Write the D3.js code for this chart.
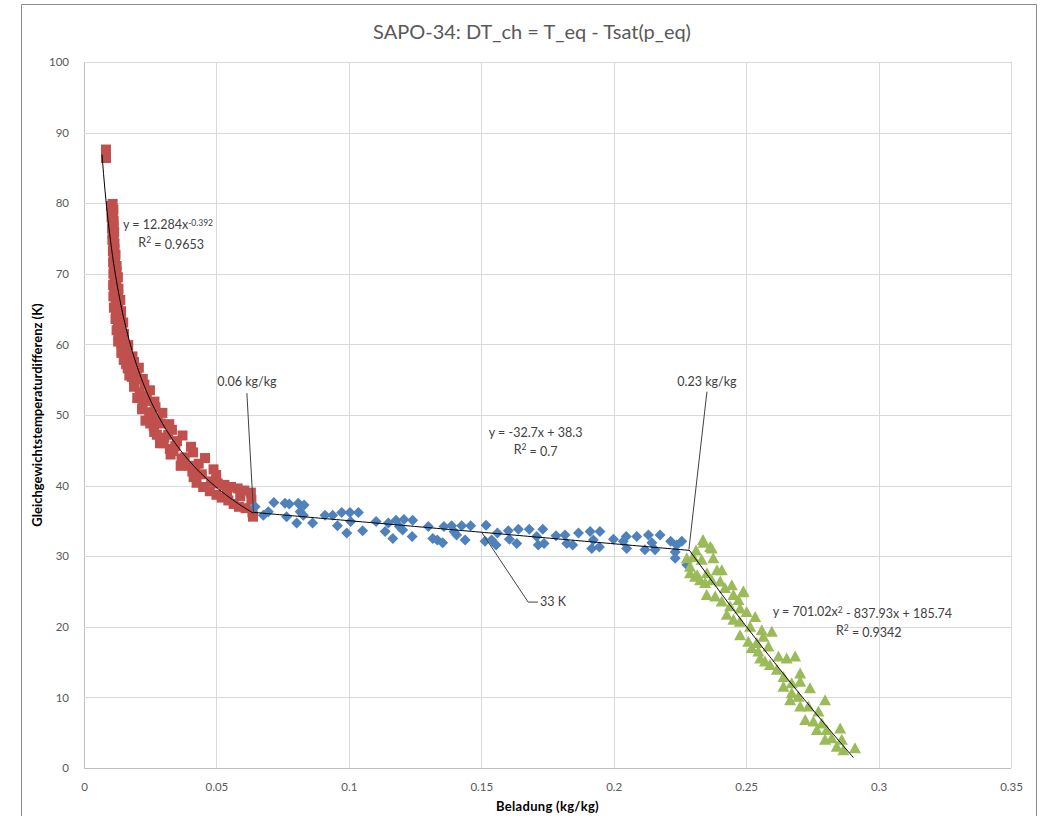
<!DOCTYPE html>
<html>
<head>
<meta charset="utf-8">
<script src="https://cdn.jsdelivr.net/npm/d3@7"></script>
<style>
  html, body { margin:0; padding:0; background:#fff; }
  svg { display:block; font-family: Lato, "Open Sans", sans-serif; }
</style>
</head>
<body>
<div id="chart"></div>
<script>
// red squares: x < 0.064
const squares = [
  [0.0083,87.6],[0.0083,86.4],
  [0.0102,79.6],[0.0108,79.9],[0.0105,78.8],[0.0111,79.1],[0.0104,78.0],[0.0109,78.3],
  [0.0107,77.2],[0.0112,77.5],[0.0106,76.4],[0.0112,76.7],[0.0108,75.6],[0.0114,75.9],
  [0.0107,74.8],[0.0112,75.1],[0.0110,74.0],[0.0115,74.3],[0.0109,73.2],[0.0115,73.5],
  [0.0112,72.4],[0.0119,72.7],[0.0110,71.6],[0.0117,71.9],[0.0113,70.8],[0.0123,71.1],
  [0.0111,70.0],[0.0123,70.3],[0.0115,69.2],[0.0128,69.5],[0.0110,68.4],[0.0122,68.7],
  [0.0114,67.6],[0.0130,67.9],[0.0111,66.8],[0.0129,67.1],[0.0119,66.0],[0.0137,66.3],
  [0.0113,65.2],[0.0129,65.5],[0.0121,64.4],[0.0140,64.7],[0.0119,63.6],[0.0140,63.9],
  [0.0128,62.8],[0.0148,63.1],[0.0123,62.0],[0.0140,62.3],[0.0130,61.2],[0.0151,61.5],
  [0.0129,60.4],[0.0151,60.7],[0.0145,59.6],[0.0167,59.9],[0.0141,58.8],[0.0163,59.1],
  [0.0157,58.0],[0.0183,58.3],[0.0159,57.2],[0.0189,57.5],[0.0176,56.4],[0.0207,56.7],
  [0.0171,55.6],[0.0199,55.9],[0.0189,54.8],[0.0222,55.1],[0.0189,54.0],[0.0228,54.3],
  [0.0210,53.2],[0.0249,53.5],[0.0201,52.4],[0.0237,52.7],[0.0221,51.6],[0.0266,51.9],
  [0.0219,50.8],[0.0270,51.1],[0.0246,50.0],[0.0296,50.3],[0.0232,49.2],[0.0278,49.5],
  [0.0263,48.4],[0.0322,48.7],[0.0265,47.6],[0.0332,47.9],[0.0303,46.8],[0.0372,47.1],
  [0.0287,46.0],[0.0351,46.3],[0.0324,45.2],[0.0404,45.5],[0.0327,44.4],[0.0412,44.7],
  [0.0377,43.6],[0.0457,43.9],[0.0365,42.8],[0.0433,43.1],[0.0409,42.0],[0.0489,42.3],
  [0.0414,41.2],[0.0499,41.5],
  [0.0235,52.0],[0.0255,50.4],[0.0290,48.8],[0.0318,47.2],[0.0345,45.6],[0.0380,44.0],
  [0.0420,42.4],[0.0445,41.6],
  [0.0300,46.0],[0.0338,44.9],[0.0368,43.8],[0.0398,42.8],[0.0275,47.2],[0.0250,48.8],
  [0.0150,57.8],[0.0165,56.6],[0.0180,55.4],[0.0133,62.4],[0.0140,60.2],
  [0.0480,40.6],[0.0505,40.3],[0.0530,40.1],[0.0555,39.8],[0.0580,39.6],[0.0605,39.3],
  [0.0630,39.0],[0.0632,38.0],[0.0450,39.8],[0.0475,39.2],[0.0500,38.7],[0.0520,38.3],
  [0.0545,37.9],[0.0565,37.4],[0.0585,37.0],[0.0610,36.8],[0.0636,36.2],[0.0638,35.6],
  [0.0425,40.4],[0.0590,38.5],[0.0540,39.0]
];

// blue diamonds: 0.064 .. 0.228
const diamonds = [
  [0.0646,37.0],[0.0677,35.8],[0.0696,36.3],[0.0717,37.6],[0.0759,37.5],
  [0.0775,37.4],[0.0809,37.5],[0.0831,37.25],[0.0765,35.6],[0.0803,34.7],
  [0.0816,36.3],[0.0828,35.8],[0.0863,34.7],[0.0910,35.8],[0.0939,35.8],
  [0.0957,34.3],[0.0973,36.2],[0.0992,33.3],[0.1004,36.2],[0.1036,36.2],
  [0.1007,34.9],[0.1052,33.6],[0.1103,34.9],[0.1137,33.5],[0.1149,34.7],
  [0.1166,32.5],[0.1178,35.1],[0.1191,34.2],[0.1208,35.2],[0.1203,33.7],
  [0.1241,35.1],[0.1239,32.8],[0.1300,34.2],[0.1317,32.5],[0.1334,32.3],
  [0.1354,31.9],[0.1359,34.2],[0.1388,34.3],[0.1397,33.5],[0.1407,33.0],
  [0.1426,34.3],[0.1439,32.3],[0.1460,34.3],[0.1518,34.4],[0.1514,32.1],
  [0.1539,32.3],[0.1556,31.6],[0.1561,33.3],[0.1602,33.6],[0.1606,32.4],
  [0.1634,31.8],[0.1640,33.8],[0.1681,33.8],[0.1709,32.8],[0.1715,31.6],
  [0.1732,33.8],[0.1737,31.8],[0.1782,32.9],[0.1816,33.0],[0.1823,31.8],
  [0.1845,31.6],[0.1867,33.3],[0.1911,33.5],[0.1917,31.1],[0.1923,32.3],
  [0.1948,33.5],[0.1946,31.3],[0.1999,32.4],[0.2036,32.1],[0.2047,32.8],
  [0.2049,31.1],[0.2087,32.8],[0.2118,30.9],[0.2131,33.0],[0.2144,31.9],
  [0.2156,30.9],[0.2175,33.0],[0.2215,32.1],[0.2232,30.6],[0.2238,31.6],
  [0.2257,32.1],[0.2232,29.7],[0.2276,28.8]
];

// green triangles: x > 0.228
const triangles = [
  [0.2339,31.9],[0.2370,31.1],[0.2311,30.8],[0.2276,29.7],[0.2376,29.7],
  [0.2332,29.5],[0.2408,28.0],[0.2307,27.1],[0.2288,27.6],[0.2326,26.6],
  [0.2345,26.2],[0.2370,26.6],[0.2402,26.4],[0.2446,25.9],[0.2420,25.5],
  [0.2490,25.0],[0.2351,24.5],[0.2383,24.3],[0.2408,23.6],[0.2452,24.5],
  [0.2471,23.8],[0.2439,22.9],[0.2477,22.6],[0.2502,22.1],[0.2534,21.4],
  [0.2427,21.7],[0.2452,21.0],[0.2476,20.7],[0.2515,20.0],[0.2559,19.5],
  [0.2597,19.3],[0.2565,18.6],[0.2477,18.8],[0.2508,17.9],[0.2540,17.7],
  [0.2584,17.2],[0.2521,17.0],[0.2546,16.5],[0.2622,15.8],[0.2653,15.5],
  [0.2685,15.8],[0.2571,15.1],[0.2590,14.6],[0.2553,15.5],[0.2616,13.9],
  [0.2641,12.9],[0.2704,13.4],[0.2672,12.0],[0.2704,12.2],[0.2641,11.5],
  [0.2672,10.6],[0.2697,10.1],[0.2741,11.3],[0.2798,9.6],[0.2666,9.6],
  [0.2704,8.7],[0.2735,8.7],[0.2773,8.0],[0.2723,6.8],[0.2754,6.6],
  [0.2786,6.3],[0.2767,5.4],[0.2804,5.4],[0.2855,5.6],[0.2823,4.2],
  [0.2861,4.0],[0.2798,4.0],[0.2842,3.0],[0.2867,2.5],[0.2911,2.8],
  [0.2337,32.3],[0.2364,31.3],[0.2300,29.9],[0.2288,28.5],[0.2315,27.3],
  [0.2352,27.6],[0.2390,28.0],[0.2488,24.9]
];

const xTicks = [0, 0.05, 0.1, 0.15, 0.2, 0.25, 0.3, 0.35];
const yTicks = [0, 10, 20, 30, 40, 50, 60, 70, 80, 90, 100];

// trendline coefficients as shown on the chart
const powerFit = { a: 12.284, b: -0.392, from: 0.0068, to: 0.064 };
const linFit   = { m: -32.7, c: 38.3, from: 0.064, to: 0.2284 };
const quadFit  = { a: 701.02, b: -837.93, c: 185.74, from: 0.2284, to: 0.2905 };

(function(){
  const W = 1048, H = 816;
  const left = 84, right = 1011, top = 62, bottom = 768;

  const svg = d3.select('#chart').append('svg')
    .attr('width', W).attr('height', H);

  // chart frame
  svg.append('path')
    .attr('d', `M21.5,${H} V4.5 H1036.5 V${H}`)
    .attr('fill', 'none').attr('stroke', '#8c8c8c').attr('stroke-width', 1);

  const x = d3.scaleLinear().domain([0, 0.35]).range([left, right]);
  const y = d3.scaleLinear().domain([0, 100]).range([bottom, top]);

  // gridlines
  const grid = svg.append('g');
  grid.selectAll('.gx').data(xTicks).enter().append('line')
    .attr('x1', d => Math.round(x(d)) + 0.5).attr('x2', d => Math.round(x(d)) + 0.5)
    .attr('y1', top).attr('y2', bottom)
    .attr('stroke', d => d === 0 ? '#bfbfbf' : '#d9d9d9');
  grid.selectAll('.gy').data(yTicks).enter().append('line')
    .attr('y1', d => Math.round(y(d)) + 0.5).attr('y2', d => Math.round(y(d)) + 0.5)
    .attr('x1', left).attr('x2', right)
    .attr('stroke', d => d === 0 ? '#bfbfbf' : '#d9d9d9');

  // axes (labels only, like excel)
  const xAxis = svg.append('g').attr('transform', `translate(0,${bottom + 12})`)
    .call(d3.axisBottom(x).tickValues(xTicks).tickSize(0).tickFormat(d => String(d)));
  const yAxis = svg.append('g').attr('transform', `translate(${left - 12},0)`)
    .call(d3.axisLeft(y).tickValues(yTicks).tickSize(0).tickFormat(d => String(d)));
  [xAxis, yAxis].forEach(a => {
    a.select('.domain').remove();
    a.selectAll('text').attr('fill', '#595959').style('font-size', '11.5px')
      .style('font-family', 'Lato, "Open Sans", sans-serif');
  });

  // markers
  const pts = svg.append('g');
  pts.selectAll('.sq').data(squares).enter().append('rect')
    .attr('x', d => x(d[0]) - 5).attr('y', d => y(d[1]) - 5)
    .attr('width', 10).attr('height', 10)
    .attr('fill', '#C0504D');
  pts.selectAll('.dm').data(diamonds).enter().append('path')
    .attr('d', 'M0,-5.5 L5.5,0 L0,5.5 L-5.5,0 Z')
    .attr('transform', d => `translate(${x(d[0])},${y(d[1])})`)
    .attr('fill', '#4F81BD');
  pts.selectAll('.tr').data(triangles).enter().append('path')
    .attr('d', 'M0,-6 L6,5 L-6,5 Z')
    .attr('transform', d => `translate(${x(d[0])},${y(d[1])})`)
    .attr('fill', '#9BBB59');

  // trendlines
  const line = d3.line().x(d => x(d[0])).y(d => y(d[1]));
  const curve = (f, from, to) => d3.range(0, 101).map(i => {
    const t = from + (to - from) * i / 100;
    return [t, f(t)];
  });
  const trends = [
    curve(t => powerFit.a * Math.pow(t, powerFit.b), powerFit.from, powerFit.to),
    curve(t => linFit.m * t + linFit.c, linFit.from, linFit.to),
    curve(t => quadFit.a * t * t + quadFit.b * t + quadFit.c, quadFit.from, quadFit.to)
  ];
  svg.append('g').selectAll('path').data(trends).enter().append('path')
    .attr('d', line).attr('fill', 'none').attr('stroke', '#000').attr('stroke-width', 1);

  // leader lines for the annotations
  const leaders = [
    [[0.0615, 53.1], [0.0640, 36.1]],
    [[0.2352, 53.3], [0.2284, 31.0]],
    [[0.1503, 33.3], [0.1677, 23.5], [0.1714, 23.5]]
  ];
  svg.append('g').selectAll('path').data(leaders).enter().append('path')
    .attr('d', line).attr('fill', 'none').attr('stroke', '#404040').attr('stroke-width', 1);

  const txt = svg.append('g').attr('fill', '#404040').style('font-size', '12.5px');
  txt.append('text').attr('x', x(0.0615)).attr('y', y(54.7)).attr('dy', '0.35em')
    .attr('text-anchor', 'middle').text('0.06 kg/kg');
  txt.append('text').attr('x', x(0.2352)).attr('y', y(54.7)).attr('dy', '0.35em')
    .attr('text-anchor', 'middle').text('0.23 kg/kg');
  txt.append('text').attr('x', x(0.1722)).attr('y', y(23.5)).attr('dy', '0.35em')
    .text('33 K');

  // fit equations
  const e1 = txt.append('text').attr('x', x(0.0147)).attr('y', y(76.9)).attr('dy', '0.35em');
  e1.append('tspan').text('y = 12.284x');
  e1.append('tspan').attr('dy', '-0.45em').style('font-size', '8.5px').text('-0.392');
  const r1 = txt.append('text').attr('x', x(0.0205)).attr('y', y(74.4)).attr('dy', '0.35em');
  r1.append('tspan').text('R');
  r1.append('tspan').attr('dy', '-0.45em').style('font-size', '8.5px').text('2');
  r1.append('tspan').attr('dy', '0.45em').text(' = 0.9653');

  txt.append('text').attr('x', x(0.1705)).attr('y', y(47.5)).attr('dy', '0.35em')
    .attr('text-anchor', 'middle').text('y = -32.7x + 38.3');
  const r2 = txt.append('text').attr('x', x(0.1705)).attr('y', y(45.1)).attr('dy', '0.35em')
    .attr('text-anchor', 'middle');
  r2.append('tspan').text('R');
  r2.append('tspan').attr('dy', '-0.45em').style('font-size', '8.5px').text('2');
  r2.append('tspan').attr('dy', '0.45em').text(' = 0.7');

  const e3 = txt.append('text').attr('x', x(0.2600)).attr('y', y(22.1)).attr('dy', '0.35em');
  e3.append('tspan').text('y = 701.02x');
  e3.append('tspan').attr('dy', '-0.45em').style('font-size', '8.5px').text('2');
  e3.append('tspan').attr('dy', '0.45em').text(' - 837.93x + 185.74');
  const r3 = txt.append('text').attr('x', x(0.2963)).attr('y', y(19.5)).attr('dy', '0.35em')
    .attr('text-anchor', 'middle');
  r3.append('tspan').text('R');
  r3.append('tspan').attr('dy', '-0.45em').style('font-size', '8.5px').text('2');
  r3.append('tspan').attr('dy', '0.45em').text(' = 0.9342');

  // titles
  svg.append('text').attr('x', 532).attr('y', 32).attr('dy', '0.35em')
    .attr('text-anchor', 'middle').attr('fill', '#595959')
    .style('font-size', '20px').text('SAPO-34: DT_ch = T_eq - Tsat(p_eq)');
  svg.append('text').attr('x', (left + right) / 2).attr('y', 806).attr('dy', '0.35em')
    .attr('text-anchor', 'middle').attr('fill', '#000')
    .style('font-size', '13px').style('font-weight', 700).style('letter-spacing', '0.3px')
    .text('Beladung (kg/kg)');
  svg.append('text').attr('transform', 'translate(37,415) rotate(-90)').attr('dy', '0.35em')
    .attr('text-anchor', 'middle').attr('fill', '#000')
    .style('font-size', '13px').style('font-weight', 700)
    .text('Gleichgewichtstemperaturdifferenz (K)');
})();
</script>
</body>
</html>
